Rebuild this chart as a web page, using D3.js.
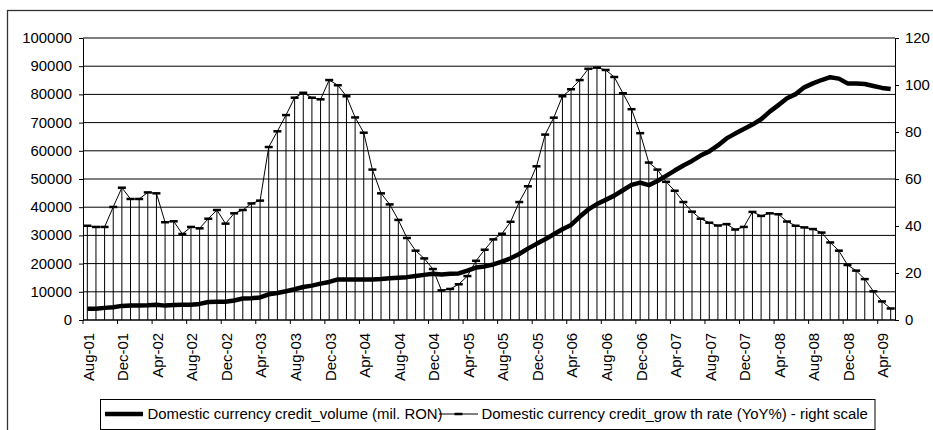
<!DOCTYPE html>
<html><head><meta charset="utf-8">
<script src="https://cdn.jsdelivr.net/npm/d3@7"></script>
<style>body{margin:0;background:#fff} text{font-family:"Liberation Sans",Arial,sans-serif;fill:#000}</style>
</head><body><svg id="c" width="933" height="430"></svg>
<script>
const categories = [
"Aug-01","Sep-01","Oct-01","Nov-01","Dec-01","Jan-02","Feb-02","Mar-02","Apr-02","May-02","Jun-02","Jul-02",
"Aug-02","Sep-02","Oct-02","Nov-02","Dec-02","Jan-03","Feb-03","Mar-03","Apr-03","May-03","Jun-03","Jul-03",
"Aug-03","Sep-03","Oct-03","Nov-03","Dec-03","Jan-04","Feb-04","Mar-04","Apr-04","May-04","Jun-04","Jul-04",
"Aug-04","Sep-04","Oct-04","Nov-04","Dec-04","Jan-05","Feb-05","Mar-05","Apr-05","May-05","Jun-05","Jul-05",
"Aug-05","Sep-05","Oct-05","Nov-05","Dec-05","Jan-06","Feb-06","Mar-06","Apr-06","May-06","Jun-06","Jul-06",
"Aug-06","Sep-06","Oct-06","Nov-06","Dec-06","Jan-07","Feb-07","Mar-07","Apr-07","May-07","Jun-07","Jul-07",
"Aug-07","Sep-07","Oct-07","Nov-07","Dec-07","Jan-08","Feb-08","Mar-08","Apr-08","May-08","Jun-08","Jul-08",
"Aug-08","Sep-08","Oct-08","Nov-08","Dec-08","Jan-09","Feb-09","Mar-09","Apr-09","May-09"];

const volume = [
4000,4000,4300,4500,5000,5100,5100,5200,5400,5100,
5300,5400,5400,5700,6400,6500,6500,6900,7600,7700,
8000,9100,9600,10200,10900,11700,12200,12900,13500,14400,
14400,14400,14400,14400,14500,14800,15000,15200,15600,16000,
16400,16100,16400,16500,17500,18600,19000,19700,20700,21900,
23400,25300,27000,28600,30400,32200,33700,36600,39200,41100,
42600,44100,46000,47900,48700,47800,49300,51100,53000,54800,
56400,58300,59800,61900,64400,66100,67700,69300,71200,73900,
76200,78600,80100,82500,83900,85100,86100,85600,83900,83900,
83700,83000,82300,81900];

const growth = [
40.1,39.6,39.6,48.1,56.3,51.5,51.5,54.3,53.9,41.6,
42.0,36.6,39.6,39.0,43.1,46.8,41.0,45.4,46.8,49.6,
50.8,73.6,80.3,87.2,94.6,96.7,94.6,93.9,102.1,99.9,
95.2,86.2,79.7,64.0,53.9,49.2,42.6,34.9,29.5,26.2,
21.7,12.6,13.2,15.2,18.7,25.2,29.9,34.3,36.7,41.8,
50.2,56.9,65.4,78.9,86.1,95.2,98.2,102.1,106.9,107.4,
106.4,103.4,96.5,89.7,79.5,67.0,64.0,58.8,55.0,50.2,
46.1,43.1,41.4,40.2,40.8,38.5,39.6,46.0,44.3,45.4,
45.0,41.9,40.1,39.4,38.7,37.2,33.0,29.5,23.4,21.0,
17.4,12.2,7.9,4.9];

const leftTicks = [0,10000,20000,30000,40000,50000,60000,70000,80000,90000,100000];
const rightTicks = [0,20,40,60,80,100,120];
const tickLabels = ["Aug-01","Dec-01","Apr-02","Aug-02","Dec-02","Apr-03","Aug-03","Dec-03",
"Apr-04","Aug-04","Dec-04","Apr-05","Aug-05","Dec-05","Apr-06","Aug-06","Dec-06","Apr-07",
"Aug-07","Dec-07","Apr-08","Aug-08","Dec-08","Apr-09"];
const seriesNames = ["Domestic currency credit_volume (mil. RON)",
"Domestic currency credit_grow th rate (YoY%) - right scale"];

const svg = d3.select("#c");
const P = {l:83, r:895, t:38, b:320};
const FS = "14px";

// chart area border
svg.append("rect").attr("x",7.5).attr("y",10.5).attr("width",960).attr("height",460)
  .attr("fill","none").attr("stroke","#333").attr("stroke-width",1.3);

const x = d3.scaleBand().domain(categories).range([P.l,P.r]).padding(0);
const yL = d3.scaleLinear().domain([0,100000]).range([P.b,P.t]);
const yR = d3.scaleLinear().domain([0,120]).range([P.b,P.t]);
const cx = c => x(c) + x.bandwidth()/2;

// gridlines
svg.append("g").selectAll("line").data(leftTicks).join("line")
  .attr("x1",P.l).attr("x2",P.r).attr("y1",d=>yL(d)).attr("y2",d=>yL(d))
  .attr("stroke","#000").attr("stroke-width",1);

// left axis
const gL = svg.append("g").attr("transform",`translate(${P.l},0)`)
  .call(d3.axisLeft(yL).tickValues(leftTicks).tickSize(4).tickSizeOuter(0).tickPadding(7).tickFormat(d3.format("d")));
gL.selectAll("text").style("font-size",FS);
gL.selectAll("line,path").attr("stroke","#000");

// right axis
const gR = svg.append("g").attr("transform",`translate(${P.r},0)`)
  .call(d3.axisRight(yR).tickValues(rightTicks).tickSize(4).tickSizeOuter(0).tickPadding(6));
gR.selectAll("text").style("font-size",FS);
gR.selectAll("line,path").attr("stroke","#000");

// drop lines
svg.append("g").selectAll("line").data(categories).join("line")
  .attr("x1",d=>cx(d)).attr("x2",d=>cx(d))
  .attr("y1",(d,i)=>yR(growth[i])).attr("y2",P.b)
  .attr("stroke","#000").attr("stroke-width",1);

// bottom axis
const gB = svg.append("g");
gB.append("line").attr("x1",P.l).attr("x2",P.r).attr("y1",P.b).attr("y2",P.b).attr("stroke","#000");
gB.selectAll("line.tk").data(tickLabels).join("line").attr("class","tk")
  .attr("x1",d=>x(d)).attr("x2",d=>x(d)).attr("y1",P.b).attr("y2",P.b+4).attr("stroke","#000");
gB.selectAll("text").data(tickLabels).join("text")
  .attr("transform",d=>`translate(${cx(d)+1.5},${P.b+13}) rotate(-90)`)
  .attr("text-anchor","end").attr("dy","0.35em").style("font-size",FS).text(d=>d);

// volume line
svg.append("path").datum(volume)
  .attr("d",d3.line().x((d,i)=>cx(categories[i])).y(d=>yL(d)))
  .attr("fill","none").attr("stroke","#000").attr("stroke-width",4.5).attr("stroke-linejoin","round");

// growth line
svg.append("path").datum(growth)
  .attr("d",d3.line().x((d,i)=>cx(categories[i])).y(d=>yR(d)))
  .attr("fill","none").attr("stroke","#000").attr("stroke-width",1);
svg.append("g").selectAll("line").data(growth).join("line")
  .attr("x1",(d,i)=>cx(categories[i])-4).attr("x2",(d,i)=>cx(categories[i])+4)
  .attr("y1",d=>yR(d)).attr("y2",d=>yR(d))
  .attr("stroke","#000").attr("stroke-width",2.5);

// legend
const lg = svg.append("g");
lg.append("rect").attr("x",100.5).attr("y",399.5).attr("width",774.5).attr("height",30)
  .attr("fill","#fff").attr("stroke","#000").attr("stroke-width",1);
lg.append("line").attr("x1",105).attr("x2",143).attr("y1",414).attr("y2",414)
  .attr("stroke","#000").attr("stroke-width",4.5);
lg.append("text").attr("x",147.5).attr("y",414).attr("dy","0.35em").style("font-size",FS).text(seriesNames[0]);
lg.append("line").attr("x1",439).attr("x2",478).attr("y1",414).attr("y2",414)
  .attr("stroke","#000").attr("stroke-width",1);
lg.append("line").attr("x1",454.5).attr("x2",462.5).attr("y1",414).attr("y2",414)
  .attr("stroke","#000").attr("stroke-width",2.5);
lg.append("text").attr("x",481.5).attr("y",414).attr("dy","0.35em").style("font-size",FS).text(seriesNames[1]);

// widen text slightly, as in the reference (horizontally stretched font)
svg.selectAll("text").each(function(){
  const len = this.getComputedTextLength();
  d3.select(this).attr("textLength", (len*1.065).toFixed(1)).attr("lengthAdjust","spacingAndGlyphs");
});
</script></body></html>
